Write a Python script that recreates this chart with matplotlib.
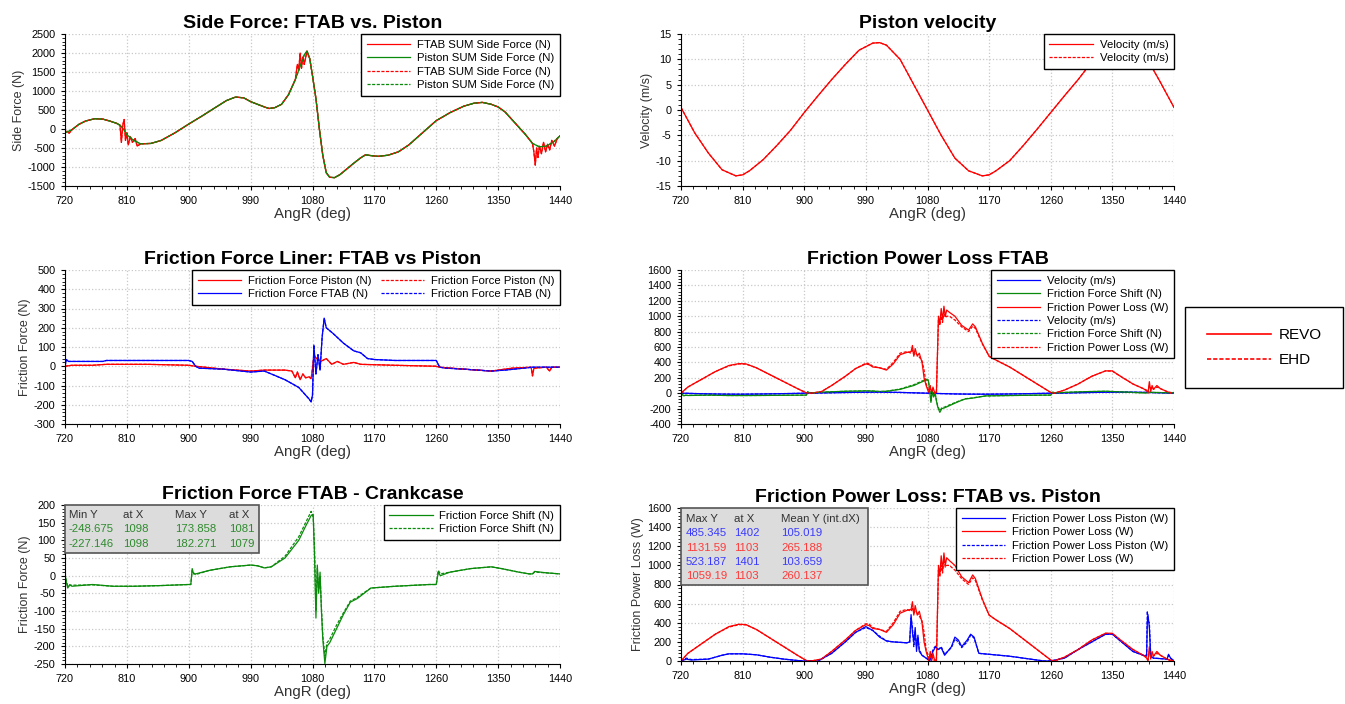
import numpy as np
import matplotlib.pyplot as plt
from matplotlib.ticker import MultipleLocator
from matplotlib.lines import Line2D
from matplotlib.patches import Rectangle

plt.rcParams['font.family'] = ['Liberation Sans', 'DejaVu Sans']
plt.rcParams['axes.unicode_minus'] = False

RED = '#ff0000'
GREEN = '#0a8a0a'
BLUE = '#0000ff'
DASH = (0, (2.5, 1.2))

# ---- side force (N) ----
side_piston_x = [720, 730, 740, 750, 763, 775, 785, 795, 800, 805, 810, 820, 830, 845, 860, 880, 900, 920, 940, 955,
                 968, 980, 990, 1000, 1010, 1017, 1025, 1035, 1045, 1055, 1062, 1068, 1072, 1076, 1080, 1085, 1090,
                 1095, 1100, 1105, 1112, 1120, 1130, 1140, 1150, 1157, 1165, 1175, 1190, 1205, 1220, 1240, 1260,
                 1280, 1300, 1315, 1327, 1340, 1350, 1360, 1370, 1380, 1390, 1400, 1410, 1420, 1430, 1440]
side_piston = [-100, -20, 120, 210, 270, 260, 210, 150, 100, 0, -150, -300, -390, -380, -300, -100, 130, 350, 580, 750,
               840, 820, 720, 650, 580, 540, 560, 650, 900, 1300, 1650, 1950, 2050, 1850, 1400, 800, 0,
               -700, -1150, -1270, -1280, -1200, -1050, -900, -760, -680, -700, -720, -690, -600, -420, -100, 220,
               430, 600, 680, 700, 650, 580, 450, 250, 50, -150, -380, -470, -450, -350, -180]

side_ftab_x = [720, 723, 726, 730, 740, 750, 763, 775, 785, 795, 800, 802, 804, 806, 808, 810, 812, 815, 818, 822, 825,
               830, 845, 860, 880, 900, 920, 940, 955, 968, 980, 990, 1000, 1010, 1017, 1025, 1035, 1045, 1055, 1058,
               1060, 1062, 1064, 1066, 1068, 1072, 1076, 1080, 1085, 1090, 1095, 1100, 1105, 1112, 1120, 1130, 1140,
               1150, 1157, 1165, 1175, 1190, 1205, 1220, 1240, 1260, 1280, 1300, 1315, 1327, 1340, 1350, 1360, 1370,
               1380, 1390, 1400, 1402, 1404, 1406, 1408, 1410, 1413, 1416, 1419, 1422, 1425, 1428, 1432, 1436, 1440]
side_ftab = [-100, -60, -110, -20, 120, 210, 270, 260, 210, 150, 100, -350, 100, 250, -300, -100, -420, -200, -350, -250,
             -450, -390, -380, -300, -100, 130, 350, 580, 750, 840, 820, 720, 650, 580, 540, 560, 650, 900, 1300, 1700,
             1550, 2000, 1600, 1900, 1700, 2050, 1850, 1400, 800, 0, -700, -1150, -1270, -1280, -1200, -1050, -900,
             -760, -680, -700, -720, -690, -600, -420, -100, 220, 430, 600, 680, 700, 650, 580, 450, 250,
             50, -150, -380, -600, -950, -500, -750, -450, -650, -350, -600, -400, -550, -300, -450, -250, -180]

# ---- piston velocity (m/s) ----
vel_x = [720, 740, 760, 780, 800, 810, 820, 840, 860, 880, 900, 920, 940, 960, 980, 1000, 1010, 1020, 1040, 1060,
         1080, 1100, 1120, 1140, 1160, 1170, 1180, 1200, 1220, 1240, 1260, 1280, 1300, 1320, 1340, 1360, 1370, 1380,
         1400, 1420, 1440]
vel = [0.5, -4.5, -8.5, -11.8, -13.0, -12.8, -12.0, -9.8, -7.0, -4.0, -0.5, 2.8, 6.0, 9.0, 11.8, 13.2, 13.3, 12.8,
       10.0, 5.0, 0.0, -5.0, -9.5, -12.0, -13.0, -12.8, -12.0, -10.0, -7.0, -3.8, -0.5, 2.8, 6.0, 9.5, 12.0, 13.2,
       13.3, 12.8, 10.3, 5.5, 0.5]

# ---- friction force liner (N) ----
ffl_piston_x = [720, 730, 760, 780, 840, 900, 910, 950, 990, 1010, 1040, 1050, 1055, 1058, 1062, 1066, 1070, 1075,
                1078, 1080, 1082, 1086, 1092, 1100, 1108, 1116, 1125, 1140, 1150, 1170, 1200, 1260, 1265, 1300, 1340,
                1370, 1398, 1400, 1402, 1420, 1425, 1428, 1440]
ffl_piston = [0, 5, 5, 10, 10, 5, 0, -15, -25, -20, -20, -25, -60, -30, -70, -40, -60, -55,
              -65, -10, 55, 40, 25, 40, 10, 25, 10, 20, 10, 8, 5, 0, -5, -15, -25,
              -10, -5, -50, -10, -5, -25, -5, -5]
ffl_ftab_x = [720, 722, 725, 775, 780, 900, 905, 910, 915, 950, 990, 1010, 1040, 1060, 1075, 1078, 1080, 1082, 1085,
              1088, 1091, 1094, 1097, 1100, 1110, 1125, 1140, 1150, 1160, 1170, 1200, 1260, 1265, 1275, 1300, 1340,
              1360, 1400, 1440]
ffl_ftab = [0, 35, 25, 25, 30, 30, 25, 0, -10, -15, -30, -25, -70, -110, -170, -185, -150, 110, -40,
            60, -20, 150, 250, 200, 170, 120, 80, 70, 40, 35, 30, 30, -5, -10, -15, -25,
            -20, -5, -5]

# ---- friction force shift (N) ----
shift_x = [720, 722, 724, 727, 730, 760, 790, 820, 860, 900, 903, 905, 907, 910, 930, 960, 990, 1000, 1010, 1020,
           1040, 1060, 1070, 1078, 1081, 1083, 1085, 1087, 1089, 1091, 1093, 1095, 1098, 1101, 1105, 1115, 1125,
           1135, 1145, 1155, 1165, 1200, 1250, 1260, 1263, 1266, 1280, 1310, 1340, 1355, 1380, 1395, 1400, 1403,
           1420, 1440]
shift_revo = [5, -20, -35, -25, -30, -25, -30, -30, -28, -25, -25, 20, 5, 5, 15, 25, 30, 28, 22, 25,
              50, 100, 140, 170, 174, 50, -120, 30, -50, 10, -100, -180, -249, -200, -190, -150, -110,
              -75, -65, -50, -35, -30, -25, -25, 10, 0, 10, 20, 25, 20, 10, 5, 5, 12,
              8, 5]
shift_ehd = [5, -15, -30, -28, -27, -26, -30, -30, -28, -25, -25, 15, 8, 3, 15, 25, 30, 28, 22, 25,
             55, 110, 150, 182, 165, 80, -100, 20, -40, 0, -90, -170, -227, -190, -180, -140, -105,
             -72, -62, -48, -35, -30, -25, -25, 15, 5, 10, 20, 25, 20, 10, 5, 5, 10,
             8, 5]

# ---- friction power loss FTAB (W) ----
fpl_x = [720, 730, 750, 770, 790, 805, 815, 830, 850, 870, 890, 903, 910, 925, 940, 960, 975, 990, 995, 1000, 1010,
         1020, 1030, 1040, 1050, 1056, 1058, 1060, 1062, 1065, 1068, 1072, 1075, 1078, 1080, 1082, 1084, 1086, 1088,
         1090, 1093, 1096, 1098, 1100, 1102, 1104, 1106, 1108, 1112, 1120, 1130, 1140, 1146, 1150, 1160, 1170, 1180,
         1200, 1220, 1240, 1260, 1265, 1280, 1300, 1320, 1340, 1350, 1360, 1380, 1395, 1400, 1402, 1404, 1406, 1408,
         1410, 1415, 1420, 1430, 1435, 1440]
fpl_revo = [0, 80, 180, 280, 360, 385, 380, 330, 240, 150, 60, 5, 0, 20, 100, 220, 320, 380, 370, 340, 330,
            300, 380, 500, 530, 540, 620, 480, 580, 480, 520, 400, 200, 100, 50, 0, 100, 0, 80,
            20, 0, 1000, 900, 1100, 950, 1130, 1000, 1080, 1050, 1000, 880, 820, 900, 860, 650, 480, 430,
            340, 230, 120, 10, 0, 40, 120, 220, 290, 290, 230, 120, 60, 30, 0, 150, 20, 100,
            50, 100, 60, 20, 0, 10]
fpl_ehd = [0, 80, 180, 280, 355, 380, 378, 330, 240, 150, 60, 5, 0, 20, 100, 220, 320, 390, 385, 350, 330,
           310, 400, 520, 540, 520, 560, 500, 520, 500, 470, 420, 300, 120, 80, 30, 60, 20, 40,
           0, 0, 950, 880, 1000, 920, 1059, 980, 1000, 1000, 950, 860, 800, 870, 840, 640, 480, 430,
           340, 230, 120, 10, 0, 40, 120, 220, 290, 285, 230, 120, 60, 40, 10, 100, 60, 80,
           50, 80, 60, 20, 10, 0]

# ---- friction power loss piston (W) ----
fplp_x = [720, 728, 735, 760, 780, 790, 810, 830, 850, 870, 890, 900, 920, 925, 940, 960, 975, 990, 1000, 1010, 1020,
          1030, 1040, 1050, 1054, 1056, 1058, 1060, 1062, 1064, 1066, 1068, 1072, 1080, 1083, 1088, 1092, 1095, 1100,
          1105, 1115, 1120, 1125, 1130, 1138, 1143, 1148, 1155, 1170, 1200, 1230, 1250, 1260, 1280, 1300, 1320, 1340,
          1350, 1360, 1380, 1395, 1400, 1401, 1402, 1404, 1406, 1410, 1430, 1432, 1435, 1440]
fplp_revo = [0, 20, 10, 20, 60, 75, 75, 65, 40, 20, 5, 0, 0, 20, 80, 200, 300, 360, 320, 250, 210,
             200, 195, 190, 200, 485, 300, 200, 350, 100, 270, 100, 60, 20, 0, 100, 150, 120, 140,
             60, 150, 250, 220, 150, 220, 280, 250, 80, 70, 50, 20, 0, 0, 30, 120, 200, 280,
             280, 220, 100, 60, 50, 400, 485, 350, 50, 30, 20, 70, 30, 0]
fplp_ehd = [0, 30, 15, 20, 60, 75, 75, 65, 40, 20, 5, 0, 0, 20, 80, 200, 300, 350, 320, 260, 210,
            200, 195, 190, 200, 450, 350, 150, 300, 150, 250, 120, 60, 20, 0, 120, 160, 110, 150,
            70, 140, 230, 200, 140, 200, 270, 240, 80, 70, 50, 20, 0, 0, 30, 120, 200, 280,
            280, 220, 100, 60, 60, 523, 420, 400, 50, 30, 20, 60, 30, 0]

# ---- stats boxes ----
shift_table = [['Min Y', 'at X', 'Max Y', 'at X'],
               ['-248.675', '1098', '173.858', '1081'],
               ['-227.146', '1098', '182.271', '1079']]
fpl_table = [['Max Y', 'at X', 'Mean Y (int.dX)'],
             ['485.345', '1402', '105.019'],
             ['1131.59', '1103', '265.188'],
             ['523.187', '1401', '103.659'],
             ['1059.19', '1103', '260.137']]
fpl_table_colors = ['#333333', '#3a3aff', '#ff3a3a', '#3a3aff', '#ff3a3a']

fig = plt.figure(figsize=(13.45, 7.04), dpi=100)
W, H = 1345.0, 704.0


def make_axes(x0, x1, y0, y1):
    return fig.add_axes([x0 / W, 1 - y1 / H, (x1 - x0) / W, (y1 - y0) / H])


def style(ax, title, ylabel, ylim, major, minor):
    ax.set_xlim(720, 1440)
    ax.set_ylim(*ylim)
    ax.xaxis.set_major_locator(MultipleLocator(90))
    ax.xaxis.set_minor_locator(MultipleLocator(18))
    ax.yaxis.set_major_locator(MultipleLocator(major))
    ax.yaxis.set_minor_locator(MultipleLocator(minor))
    ax.grid(True, which='major', color='#c8c8c8', linestyle=':', linewidth=0.9)
    ax.spines['top'].set_visible(False)
    ax.spines['right'].set_visible(False)
    ax.tick_params(labelsize=7.8, length=3, width=0.8, pad=4)
    ax.tick_params(which='minor', length=2)
    ax.set_title(title, fontsize=14, fontweight='bold', pad=4)
    ax.set_xlabel('AngR (deg)', fontsize=10.8, labelpad=1, color='#333333')
    ax.set_ylabel(ylabel, fontsize=9, labelpad=2, color='#333333')


def legend(ax, **kw):
    leg = ax.legend(loc='upper right', bbox_to_anchor=(1, 1), borderaxespad=0, fontsize=8.2,
                    frameon=True, fancybox=False, framealpha=1, edgecolor='black',
                    handlelength=3.8, handletextpad=0.6, labelspacing=0.3, borderpad=0.5, **kw)
    leg.get_frame().set_linewidth(1.0)
    return leg


def stats_box(ax, rows, xs, ys, box_w, box_h, colors):
    ax.add_patch(Rectangle((0, 1 - box_h), box_w, box_h, transform=ax.transAxes, facecolor='#dcdcdc',
                           edgecolor='#555555', linewidth=1.2, zorder=5, clip_on=False))
    for r, row in enumerate(rows):
        for c, txt in enumerate(row):
            ax.text(xs[c], ys[r], txt, transform=ax.transAxes, fontsize=8.2, color=colors[r],
                    va='center', ha='left', zorder=6)


lw = 0.9

# Side force
ax1 = make_axes(65, 560, 34, 186)
ax1.plot(side_ftab_x, side_ftab, color=RED, lw=lw, label='FTAB SUM Side Force (N)')
ax1.plot(side_piston_x, side_piston, color=GREEN, lw=lw, label='Piston SUM Side Force (N)')
ax1.plot(side_ftab_x, side_ftab, color=RED, lw=lw, ls=DASH, label='FTAB SUM Side Force (N)')
ax1.plot(side_piston_x, side_piston, color=GREEN, lw=lw, ls=DASH, label='Piston SUM Side Force (N)')
style(ax1, 'Side Force: FTAB vs. Piston', 'Side Force (N)', (-1500, 2500), 500, 100)
legend(ax1)

# Piston velocity
ax2 = make_axes(681, 1174, 34, 186)
ax2.plot(vel_x, vel, color=RED, lw=lw, label='Velocity (m/s)')
ax2.plot(vel_x, vel, color=RED, lw=lw, ls=DASH, label='Velocity (m/s)')
style(ax2, 'Piston velocity', 'Velocity (m/s)', (-15, 15), 5, 1)
legend(ax2)

# Friction force liner
ax3 = make_axes(65, 560, 270, 424)
ax3.plot(ffl_piston_x, ffl_piston, color=RED, lw=lw, label='Friction Force Piston (N)')
ax3.plot(ffl_ftab_x, ffl_ftab, color=BLUE, lw=lw, label='Friction Force FTAB (N)')
ax3.plot(ffl_piston_x, ffl_piston, color=RED, lw=lw, ls=DASH, label='Friction Force Piston (N)')
ax3.plot(ffl_ftab_x, ffl_ftab, color=BLUE, lw=lw, ls=DASH, label='Friction Force FTAB (N)')
style(ax3, 'Friction Force Liner: FTAB vs Piston', 'Friction Force (N)', (-300, 500), 100, 20)
legend(ax3, ncol=2, columnspacing=0.8)

# Friction power loss FTAB
ax4 = make_axes(681, 1174, 270, 424)
ax4.plot(vel_x, vel, color=BLUE, lw=lw, label='Velocity (m/s)')
ax4.plot(shift_x, shift_revo, color=GREEN, lw=lw, label='Friction Force Shift (N)')
ax4.plot(fpl_x, fpl_revo, color=RED, lw=lw, label='Friction Power Loss (W)')
ax4.plot(vel_x, vel, color=BLUE, lw=lw, ls=DASH, label='Velocity (m/s)')
ax4.plot(shift_x, shift_ehd, color=GREEN, lw=lw, ls=DASH, label='Friction Force Shift (N)')
ax4.plot(fpl_x, fpl_ehd, color=RED, lw=lw, ls=DASH, label='Friction Power Loss (W)')
style(ax4, 'Friction Power Loss FTAB', '', (-400, 1600), 200, 40)
legend(ax4)

# Friction force FTAB - crankcase
ax5 = make_axes(65, 560, 505, 664)
ax5.plot(shift_x, shift_revo, color=GREEN, lw=lw, label='Friction Force Shift (N)')
ax5.plot(shift_x, shift_ehd, color=GREEN, lw=lw, ls=DASH, label='Friction Force Shift (N)')
style(ax5, 'Friction Force FTAB - Crankcase', 'Friction Force (N)', (-250, 200), 50, 10)
legend(ax5)
stats_box(ax5, shift_table, [0.008, 0.117, 0.222, 0.331], [0.94, 0.85, 0.757], 0.392, 0.30,
          ['#333333', '#2e8b2e', '#2e8b2e'])

# Friction power loss FTAB vs piston
ax6 = make_axes(681, 1174, 508, 661)
ax6.plot(fplp_x, fplp_revo, color=BLUE, lw=lw, label='Friction Power Loss Piston (W)')
ax6.plot(fpl_x, fpl_revo, color=RED, lw=lw, label='Friction Power Loss (W)')
ax6.plot(fplp_x, fplp_ehd, color=BLUE, lw=lw, ls=DASH, label='Friction Power Loss Piston (W)')
ax6.plot(fpl_x, fpl_ehd, color=RED, lw=lw, ls=DASH, label='Friction Power Loss (W)')
style(ax6, 'Friction Power Loss: FTAB vs. Piston', 'Friction Power Loss (W)', (0, 1600), 200, 40)
legend(ax6)
stats_box(ax6, fpl_table, [0.01, 0.108, 0.203], [0.93, 0.835, 0.74, 0.648, 0.555], 0.379, 0.503,
          fpl_table_colors)

# shared REVO / EHD key
handles = [Line2D([], [], color=RED, lw=1.2), Line2D([], [], color=RED, lw=1.2, ls=DASH)]
fleg = fig.legend(handles, ['REVO', 'EHD'], loc='center', bbox_to_anchor=(1264 / W, 1 - 347.5 / H),
                  fontsize=11, frameon=True, fancybox=False, framealpha=1, edgecolor='black',
                  handlelength=4.2, handletextpad=0.5, borderpad=1.4, labelspacing=0.7)
fleg.get_frame().set_linewidth(1.0)

fig.savefig('out.png', dpi=100)
